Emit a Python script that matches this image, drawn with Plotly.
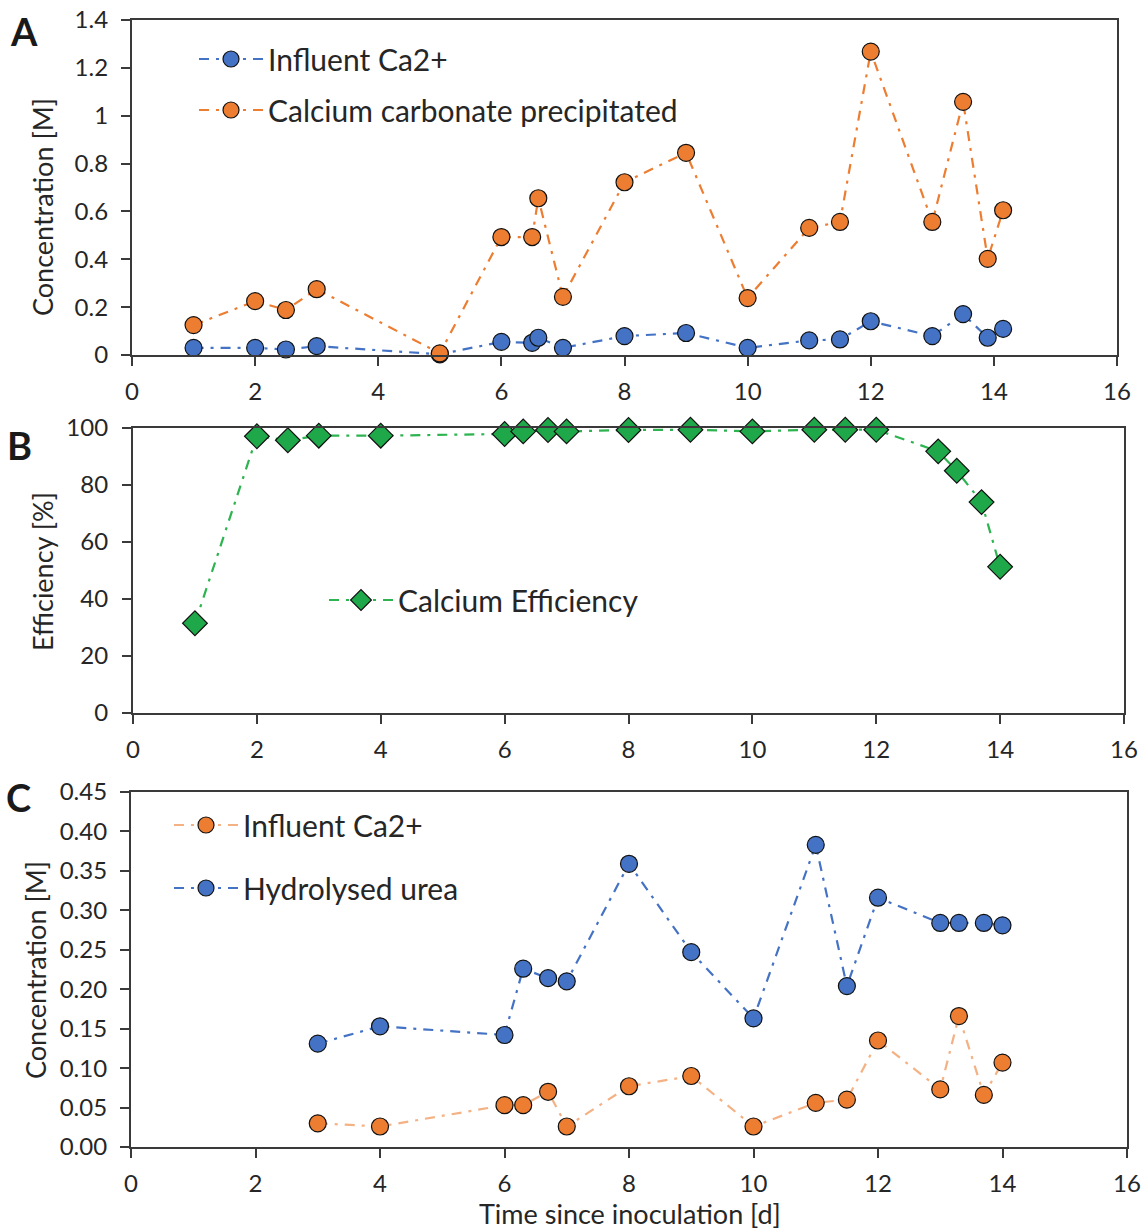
import plotly.graph_objects as go

# ---------------- data ----------------
A_time = [1, 2, 2.5, 3, 5, 6, 6.5, 6.6, 7, 8, 9, 10, 11, 11.5, 12, 13, 13.5, 13.9, 14.15]
A_influent = [0.030, 0.030, 0.023, 0.037, 0.003, 0.055, 0.051, 0.072, 0.030, 0.079, 0.092,
              0.030, 0.061, 0.065, 0.141, 0.079, 0.171, 0.072, 0.109]
A_caco3 = [0.125, 0.225, 0.188, 0.275, 0.007, 0.493, 0.493, 0.655, 0.243, 0.722, 0.845,
           0.238, 0.531, 0.556, 1.268, 0.556, 1.058, 0.402, 0.605]

B_time = [1, 2, 2.5, 3, 4, 6, 6.3, 6.7, 7, 8, 9, 10, 11, 11.5, 12, 13, 13.3, 13.7, 14]
B_eff = [31.5, 97.1, 95.7, 97.3, 97.3, 97.9, 98.8, 99.3, 98.8, 99.3, 99.4, 98.8, 99.4,
         99.4, 99.4, 91.8, 85.0, 74.0, 51.3]

C_time = [3, 4, 6, 6.3, 6.7, 7, 8, 9, 10, 11, 11.5, 12, 13, 13.3, 13.7, 14]
C_influent = [0.030, 0.026, 0.053, 0.053, 0.070, 0.026, 0.077, 0.090, 0.026, 0.056, 0.060,
              0.135, 0.073, 0.166, 0.066, 0.107]
C_urea = [0.131, 0.153, 0.142, 0.226, 0.214, 0.210, 0.359, 0.247, 0.163, 0.383, 0.204,
          0.316, 0.284, 0.284, 0.284, 0.281]

# ---------------- styling ----------------
W, H = 1145, 1231
FONT = "Lato"
TXT = "#262626"
AX = "#3a3a3a"
BLUE = "#4472C4"
ORANGE = "#ED7D31"
PEACH = "#F4B183"
GREEN = "#1FA84A"
GREEN_LINE = "#2DB34F"
DASH = "10px,7px,3px,7px"


def px_x(p):
    return p / W


def px_y(p):
    return 1 - p / H


fig = go.Figure()


def add(x, y, name, xa, ya, leg, grp, lcol, mcol, sym="circle", size=17):
    fig.add_trace(go.Scatter(x=x, y=y, name=name, xaxis=xa, yaxis=ya,
                             mode="lines+markers", legend=leg, legendgroup=grp,
                             cliponaxis=False,
                             line=dict(color=lcol, width=2.2, dash=DASH),
                             marker=dict(symbol=sym, size=size, color=mcol,
                                         line=dict(color="#111", width=1.2))))


add(A_time, A_influent, "Influent Ca2+", "x", "y", "legend", "a1", BLUE, BLUE)
add(A_time, A_caco3, "Calcium carbonate precipitated", "x", "y", "legend", "a2", ORANGE, ORANGE)
add(B_time, B_eff, "Calcium Efficiency", "x2", "y2", "legend2", "b1", GREEN_LINE, GREEN,
    sym="diamond", size=19)
add(C_time, C_influent, "Influent Ca2+", "x3", "y3", "legend3", "c1", PEACH, ORANGE)
add(C_time, C_urea, "Hydrolysed urea", "x3", "y3", "legend3", "c2", BLUE, BLUE)

panels = [
    # (xdomain px, ydomain px, yrange, dtick, tickformat, label standoff)
    ((132, 1117), (20, 355), [0, 1.4], 0.2, None, 8),
    ((133, 1124), (428, 713), [0, 100], 20, None, 9),
    ((131, 1127), (792, 1147), [0, 0.45], 0.05, ".2f", 8),
]

layout = dict(width=W, height=H, margin=dict(l=0, r=0, t=0, b=0, autoexpand=False),
              paper_bgcolor="white", plot_bgcolor="white",
              font=dict(family=FONT, color=TXT, size=24), showlegend=True)

for i, (xd, yd, yr, dt, tf, so) in enumerate(panels, start=1):
    sx = "" if i == 1 else str(i)
    xdom = [px_x(xd[0]), px_x(xd[1])]
    ydom = [px_y(yd[1]), px_y(yd[0])]
    layout["xaxis" + sx] = dict(domain=xdom, range=[0, 16], dtick=2, tick0=0,
                                anchor="y" + sx, showgrid=False, zeroline=False,
                                automargin=False,
                                showline=True, linecolor=AX, linewidth=2.2, mirror=True,
                                ticks="outside", ticklen=9, tickwidth=1.5, tickcolor=AX,
                                tickfont=dict(size=24, color=TXT), ticklabelstandoff=5)
    ya = dict(domain=ydom, range=yr, dtick=dt, tick0=0, anchor="x" + sx,
              showgrid=False, zeroline=False, showline=True, linecolor=AX,
              automargin=False,
              linewidth=2.2, mirror=True, ticks="outside", ticklen=9, tickwidth=1.5,
              tickcolor=AX, tickfont=dict(size=24, color=TXT), ticklabelstandoff=so)
    if tf:
        ya["tickformat"] = tf
    layout["yaxis" + sx] = ya
    # overlay x axis to draw the inward half of the crossing tick marks
    ox = str(i + 3)
    layout["xaxis" + ox] = dict(domain=xdom, range=[0, 16], dtick=2, tick0=0,
                                overlaying="x" + sx, anchor="y" + sx, side="bottom",
                                showgrid=False, zeroline=False, showline=False,
                                automargin=False,
                                ticks="inside", ticklen=9, tickwidth=1.5, tickcolor=AX,
                                showticklabels=False)

leg_common = dict(bgcolor="rgba(0,0,0,0)", borderwidth=0, itemwidth=64,
                  font=dict(size=30, color=TXT, family=FONT), xanchor="left", yanchor="top",
                  traceorder="grouped")
layout["legend"] = dict(leg_common, x=px_x(194), y=px_y(33), tracegroupgap=9)
layout["legend2"] = dict(leg_common, x=px_x(324), y=px_y(574), tracegroupgap=0)
layout["legend3"] = dict(leg_common, x=px_x(169), y=px_y(799), tracegroupgap=21)

TT = dict(size=27, color=TXT, family=FONT)
LET = dict(size=38, color="#1a1a1a", family=FONT)


def ann(text, x, y, font, angle=0):
    return dict(text=text, x=px_x(x), y=px_y(y), xref="paper", yref="paper",
                xanchor="center", yanchor="middle", textangle=angle,
                showarrow=False, font=font)


layout["annotations"] = [
    ann("<b>A</b>", 24, 31, LET),
    ann("<b>B</b>", 19, 445, LET),
    ann("<b>C</b>", 18, 797, LET),
    ann("Concentration [M]", 42, 207, TT, -90),
    ann("Efficiency [%]", 42, 571, TT, -90),
    ann("Concentration [M]", 35, 970, TT, -90),
    ann("Time since inoculation [d]", 630, 1213, TT),
]

fig.update_layout(**layout)
fig.write_html("out.html")
